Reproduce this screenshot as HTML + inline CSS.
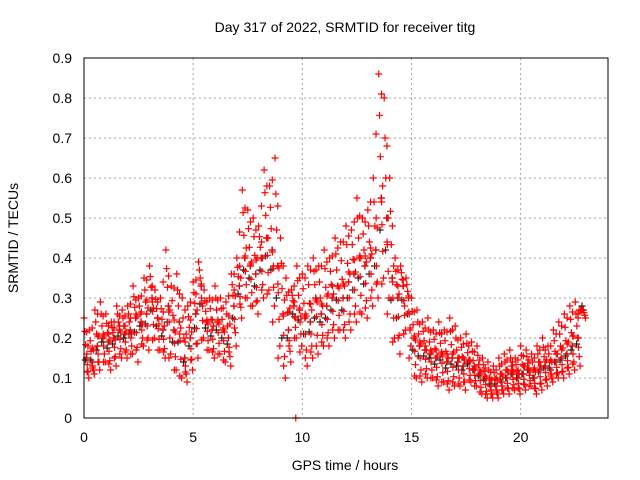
<!DOCTYPE html>
<html><head><meta charset="utf-8"><style>
body{margin:0;background:#fff}
svg{display:block;font-family:"Liberation Sans",sans-serif}
</style></head><body>
<svg id="c" width="640" height="480">
<text x="345" y="32" text-anchor="middle" font-size="14">Day 317 of 2022, SRMTID for receiver titg</text>
<text x="345" y="470" text-anchor="middle" font-size="14">GPS time / hours</text>
<text transform="translate(18,238) rotate(-90)" text-anchor="middle" font-size="14">SRMTID / TECUs</text>
<g id="grid"></g><g id="ticks"></g><g id="marks"></g>
<rect x="84" y="58" width="524" height="360" fill="none" stroke="#000"/>
</svg>
<script>
const xTicks=[0,5,10,15,20];
const yTicks=[0,0.1,0.2,0.3,0.4,0.5,0.6,0.7,0.8,0.9];
const step=0.25;
const hi=[.25,.22,.27,.29,.26,.24,.28,.27,.28,.33,.30,.35,.38,.32,.30,.42,.33,.36,.30,.28,.34,.39,.32,.30,.33,.30,.29,.36,.40,.57,.52,.50,.48,.62,.58,.65,.45,.35,.32,.38,.36,.38,.40,.38,.42,.40,.45,.44,.48,.47,.55,.50,.52,.60,.86,.80,.60,.40,.38,.35,.30,.27,.24,.25,.22,.24,.22,.25,.23,.20,.21,.19,.18,.15,.14,.13,.15,.16,.17,.15,.18,.17,.16,.18,.20,.18,.22,.24,.26,.28,.29,.27];
const mid=[.15,.14,.18,.20,.19,.20,.22,.21,.22,.25,.24,.26,.30,.25,.22,.28,.22,.24,.15,.20,.26,.33,.24,.22,.24,.22,.20,.28,.33,.40,.38,.36,.40,.45,.42,.38,.26,.22,.28,.27,.25,.24,.30,.26,.28,.30,.33,.30,.34,.36,.40,.38,.40,.42,.55,.50,.35,.30,.33,.30,.20,.18,.17,.16,.15,.16,.14,.15,.14,.13,.14,.12,.11,.10,.08,.08,.09,.10,.11,.10,.11,.12,.10,.12,.13,.12,.14,.15,.16,.18,.20,.27];
const lo=[.10,.11,.12,.14,.12,.13,.15,.15,.16,.14,.18,.17,.20,.17,.15,.16,.12,.10,.09,.12,.15,.20,.17,.15,.16,.14,.13,.18,.25,.30,.28,.26,.30,.32,.28,.18,.10,.14,.20,.18,.13,.15,.16,.18,.18,.20,.22,.20,.22,.24,.26,.25,.28,.30,.35,.30,.20,.16,.22,.18,.10,.09,.10,.10,.08,.09,.07,.08,.08,.07,.09,.08,.06,.05,.05,.05,.06,.06,.07,.06,.07,.08,.06,.07,.08,.09,.10,.10,.11,.12,.13,.25];
const outT=[9.7],outV=[0.0];
const NS="http://www.w3.org/2000/svg";
const X=h=>84+h*(524/24), Y=v=>418-v*400;
const grid=document.getElementById('grid'),ticks=document.getElementById('ticks'),marks=document.getElementById('marks');
function mk(tag,attrs,parent){const e=document.createElementNS(NS,tag);for(const k in attrs)e.setAttribute(k,attrs[k]);parent.appendChild(e);return e;}
xTicks.forEach(t=>{
 const l=mk('line',{x1:X(t),x2:X(t),y1:58,y2:418,stroke:'#a0a0a0','stroke-dasharray':'2,3'},grid);
 
 
 const tx=mk('text',{x:X(t),y:442,'text-anchor':'middle','font-size':14},ticks);tx.textContent=t;
 
 
});
yTicks.forEach(v=>{
 const l=mk('line',{x1:84,x2:608,y1:Y(v),y2:Y(v),stroke:'#a0a0a0','stroke-dasharray':'2,3'},grid);
 
 
 const tx=mk('text',{x:72,y:Y(v)+5,'text-anchor':'end','font-size':14},ticks);tx.textContent=v;
 
 
});
function plus(t,v,col){
 const x=X(t),y=Y(v);
 const p=mk('path',{d:`M${x-3.5} ${y}h7M${x} ${y-3.5}v7`,stroke:col,'stroke-width':1.2,fill:'none'},marks);
 
 
}
mid.forEach((v,i)=>plus(i*step+0.12,v,'#222'));
lo.forEach((v,i)=>plus(i*step+0.06,(v+mid[i])/2+0.02,'#222'));
for(let i=0;i<hi.length;i++){
 const t=i*step;
 for(let k=0;k<=6;k++){
  const f=k/6;
  const v=f<=0.5? hi[i]+(mid[i]-hi[i])*f*2 : mid[i]+(lo[i]-mid[i])*(f-0.5)*2;
  plus(t+f*0.22,v,'red');
 }
 if(i<hi.length-1){
  plus(t+0.125,(hi[i]+hi[i+1])/2-0.02,'red');
  plus(t+0.13,(mid[i]+mid[i+1])/2+0.015,'red');
  plus(t+0.14,(lo[i]+lo[i+1])/2+0.01,'red');
  plus(t+0.18,(hi[i]+lo[i+1])/2,'red');
 }
}
outT.forEach((t,i)=>plus(t,outV[i],'red'));
</script>
</body></html>
